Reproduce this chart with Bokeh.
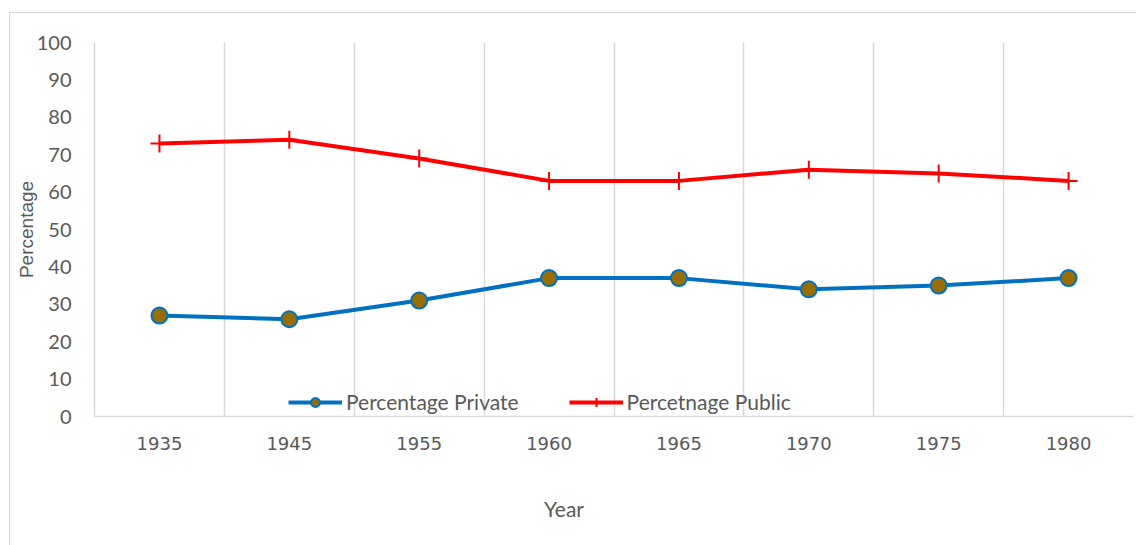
from bokeh.plotting import figure
from bokeh.models import FixedTicker, Range1d, Legend, LegendItem, Div
from bokeh.layouts import column
from bokeh.embed import file_html
from bokeh.resources import INLINE

years = ["1935", "1945", "1955", "1960", "1965", "1970", "1975", "1980"]
private = [27, 26, 31, 37, 37, 34, 35, 37]
public = [73, 74, 69, 63, 63, 66, 65, 63]
y_ticks = list(range(0, 101, 10))

xs = [i + 0.5 for i in range(len(years))]

TEXT = "#595959"
GRID = "#d9d9d9"

p = figure(width=1126, height=480, x_range=Range1d(0, len(years)), y_range=Range1d(0, 100),
           output_backend="svg", toolbar_location=None,
           min_border_left=84, min_border_top=29, min_border_bottom=77, min_border_right=3)
p.outline_line_color = None

# grid
p.ygrid.grid_line_color = None
p.xgrid.ticker = FixedTicker(ticks=list(range(0, len(years) + 1)))
p.xgrid.grid_line_color = GRID
p.xgrid.grid_line_width = 1.5

# y axis
ya = p.yaxis[0]
ya.ticker = FixedTicker(ticks=y_ticks)
ya.major_tick_line_color = None
ya.minor_tick_line_color = None
ya.major_tick_out = 0
ya.axis_line_color = GRID
ya.axis_line_width = 1.5
ya.major_label_standoff = 23
ya.major_label_text_font = "Lato"
ya.major_label_text_font_size = "20px"
ya.major_label_text_color = TEXT
ya.axis_label = "Percentage"
ya.axis_label_text_font = "Liberation Sans"
ya.axis_label_text_font_size = "19px"
ya.axis_label_text_font_style = "normal"
ya.axis_label_text_color = TEXT
ya.axis_label_standoff = -3

# x axis
xa = p.xaxis[0]
xa.ticker = FixedTicker(ticks=xs)
xa.major_label_overrides = {x: y for x, y in zip(xs, years)}
xa.major_tick_line_color = None
xa.minor_tick_line_color = None
xa.major_tick_out = 0
xa.axis_line_color = GRID
xa.axis_line_width = 1.5
xa.major_label_standoff = 20
xa.major_label_text_font = "DejaVu Sans"
xa.major_label_text_font_size = "18px"
xa.major_label_text_color = TEXT

# series
l1 = p.line(xs, private, line_color="#0070C0", line_width=4)
m1 = p.scatter(xs, private, marker="circle", size=16, fill_color="#996E00",
               line_color="#0070C0", line_width=2)
l2 = p.line(xs, public, line_color="#FF0000", line_width=4)
m2 = p.scatter(xs, public, marker="cross", size=18, line_color="#FF0000", line_width=2)

legend = Legend(items=[LegendItem(label="Percentage Private", renderers=[l1, m1]),
                       LegendItem(label="Percetnage Public", renderers=[l2, m2])],
                orientation="horizontal", location=(194, 2),
                background_fill_alpha=0, border_line_color=None,
                label_text_font="Lato", label_text_font_size="21px", label_text_color=TEXT,
                glyph_width=54, glyph_height=22, label_standoff=4, spacing=50,
                padding=0, margin=0)
p.add_layout(legend, "center")

# x axis title, centred under the whole chart (as in the original)
xtitle = Div(text="Year", width=1098, height=52,
             styles={"font-family": "Lato", "font-size": "21px", "color": TEXT,
                     "text-align": "center", "line-height": "22px"})

layout = column(p, xtitle, spacing=0)
layout.margin = (13, 0, 0, 10)
layout.styles = {"outline": "1px solid #d9d9d9"}

open("out.html", "w").write(file_html(layout, INLINE))
